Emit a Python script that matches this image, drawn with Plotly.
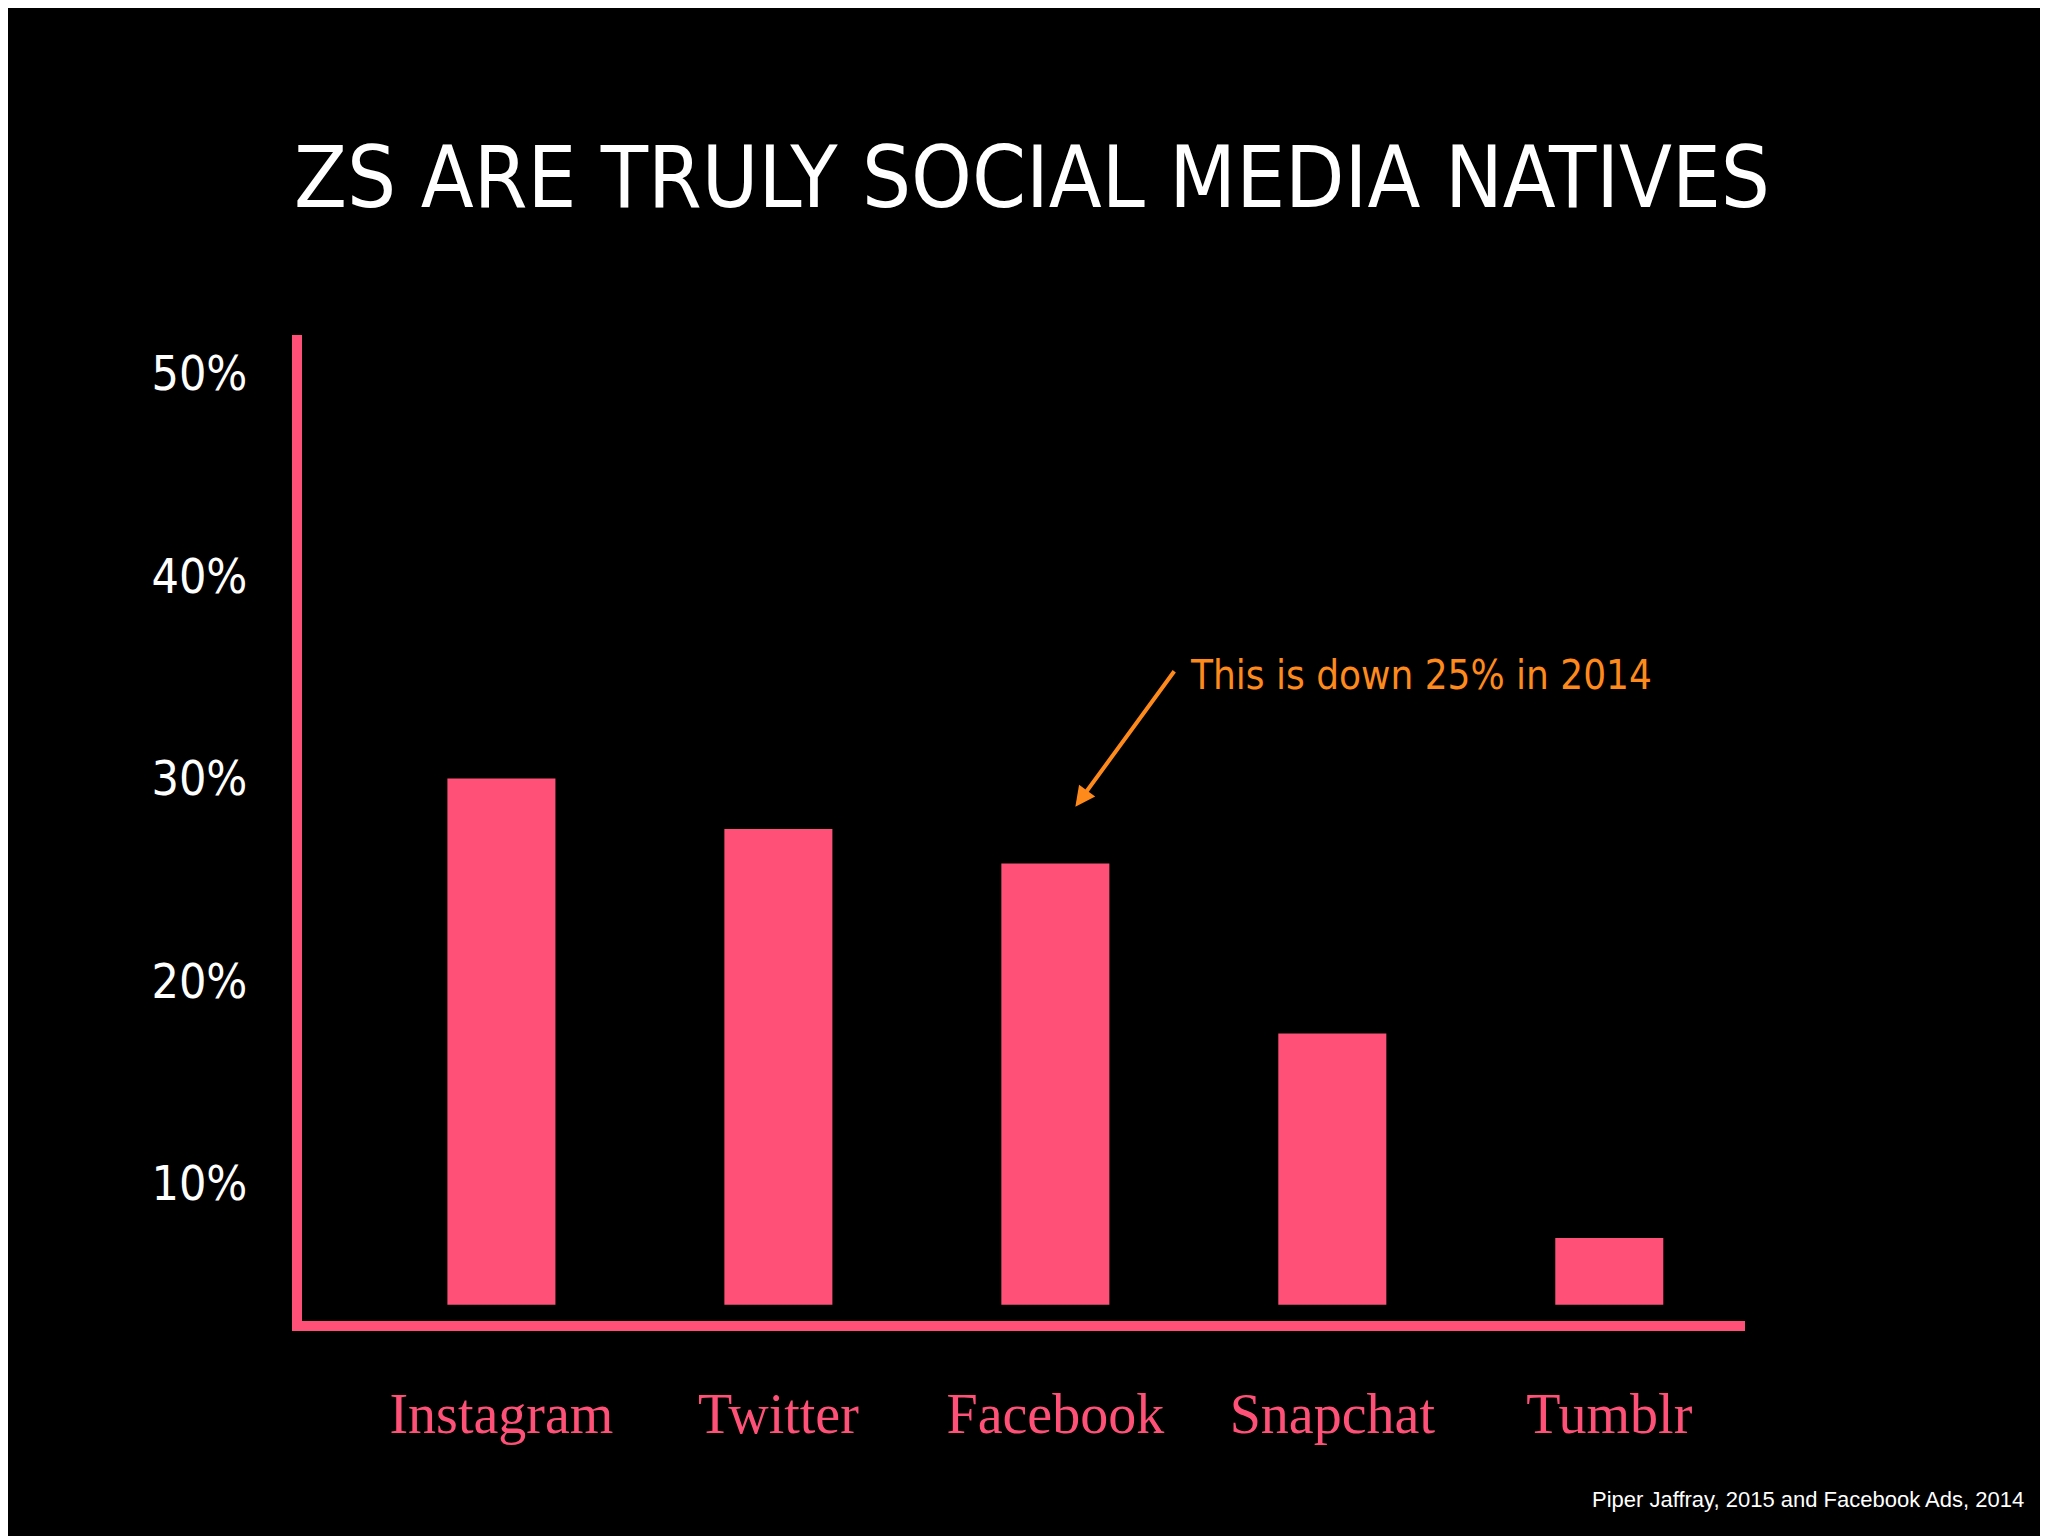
import plotly.graph_objects as go

platforms = ["Instagram", "Twitter", "Facebook", "Snapchat", "Tumblr"]
share_pct = [30.0, 27.5, 25.8, 17.4, 7.3]
bar_base = 4.0
tick_vals = [10, 20, 30, 40, 50]
tick_text = ["10%", "20%", "30%", "40%", "50%"]

pink = "#ff5177"
fig = go.Figure(go.Bar(x=platforms, y=[v - bar_base for v in share_pct], base=bar_base,
                       marker_color=pink, marker_line_width=0, width=0.39))
fig.update_layout(
    width=2048, height=1536, paper_bgcolor="black", plot_bgcolor="black",
    margin=dict(l=294, r=311, t=327, b=223), showlegend=False,
    title=dict(text="ZS ARE TRULY SOCIAL MEDIA NATIVES", x=0.5, xanchor="center", y=0.89,
               yanchor="middle", font=dict(family="DejaVu Sans Condensed", size=86, color="white")),
)
fig.update_xaxes(range=[-0.72, 4.49], showline=True, linecolor=pink, linewidth=10,
                 showgrid=False, ticks="", ticklabelstandoff=35,
                 tickfont=dict(family="URW Chancery L, Z003, cursive", size=56, color=pink))
fig.update_yaxes(range=[3.2, 51.9], showline=True, linecolor=pink, linewidth=10,
                 showgrid=False, zeroline=False, tickvals=tick_vals, ticktext=tick_text,
                 ticks="", ticklabelstandoff=35,
                 tickfont=dict(family="DejaVu Sans Condensed", size=48, color="white"))
fig.add_annotation(x=2, y=28.6, xshift=20, ax=100, ay=-137, axref="pixel", ayref="pixel",
                   showarrow=True, arrowhead=2, arrowsize=1, arrowwidth=4, arrowcolor="#ff8a1c", text="")
fig.add_annotation(x=(1082-225)/1105, y=(1005-510)/755, xref="paper", yref="paper",
                   xanchor="center", yanchor="middle", text="This is down 25% in 2014",
                   showarrow=False, font=dict(family="DejaVu Sans Condensed", size=40, color="#ff8a1c"))
fig.add_annotation(x=(1545-225)/1105, y=(1005-1142)/755, xref="paper", yref="paper",
                   xanchor="right", yanchor="middle", text="Piper Jaffray, 2015 and Facebook Ads, 2014",
                   showarrow=False, font=dict(family="Liberation Sans", size=22, color="white"))
fig.write_html("out.html")
